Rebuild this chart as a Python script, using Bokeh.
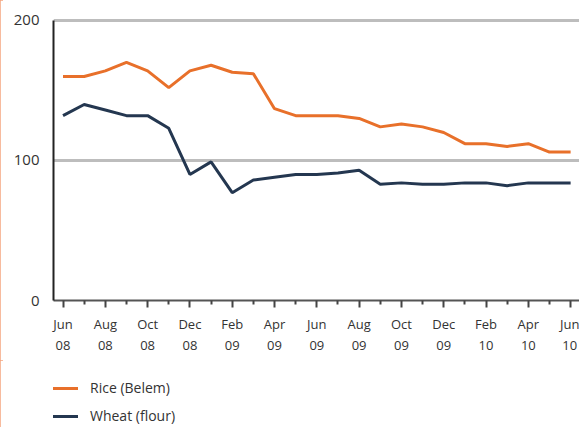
from bokeh.plotting import figure
from bokeh.layouts import column
from bokeh.models import FixedTicker, Legend, LegendItem
from bokeh.embed import file_html
from bokeh.resources import INLINE

months = ["Jun\n08", "Jul\n08", "Aug\n08", "Sep\n08", "Oct\n08", "Nov\n08", "Dec\n08",
          "Jan\n09", "Feb\n09", "Mar\n09", "Apr\n09", "May\n09", "Jun\n09", "Jul\n09",
          "Aug\n09", "Sep\n09", "Oct\n09", "Nov\n09", "Dec\n09", "Jan\n10", "Feb\n10",
          "Mar\n10", "Apr\n10", "May\n10", "Jun\n10"]
rice = [160, 160, 164, 170, 164, 152, 164, 168, 163, 162, 137, 132, 132, 132,
        130, 124, 126, 124, 120, 112, 112, 110, 112, 106, 106]
wheat = [132, 140, 136, 132, 132, 123, 90, 99, 77, 86, 88, 90, 90, 91,
         93, 83, 84, 83, 83, 84, 84, 82, 84, 84, 84]
series_names = ["Rice (Belem)", "Wheat (flour)"]
series_colors = ["#E8702A", "#243750"]
y_ticks = [0, 100, 200]

x = list(range(len(months)))
FONT = "Open Sans"
BORDER = {"box-shadow": "inset 3px 0 0 #F4A57E"}

p = figure(width=579, height=360, output_backend="svg", toolbar_location=None,
           x_range=(-0.45, 24.42), y_range=(0, 202.1),
           min_border_left=53, min_border_right=0, min_border_top=17, min_border_bottom=60)
p.outline_line_color = None
p.background_fill_color = "white"
p.border_fill_color = "white"
p.styles = BORDER

p.line(x, rice, line_color=series_colors[0], line_width=3)
p.line(x, wheat, line_color=series_colors[1], line_width=3)

# grid
p.xgrid.visible = False
p.ygrid.ticker = FixedTicker(ticks=y_ticks)
p.ygrid.grid_line_color = "#BDBDBD"
p.ygrid.grid_line_width = 3
p.ygrid.level = "underlay"

# y axis
p.yaxis.ticker = FixedTicker(ticks=y_ticks)
p.yaxis.bounds = (0, 200)
p.yaxis.axis_line_color = "#222222"
p.yaxis.axis_line_width = 2
p.yaxis.major_tick_line_color = None
p.yaxis.minor_tick_line_color = None
p.yaxis.major_label_text_font = FONT
p.yaxis.major_label_text_font_size = "15px"
p.yaxis.major_label_text_color = "#333333"
p.yaxis.major_label_standoff = 8

# x axis
major = x[::2]
minor = x[1::2]
p.xaxis.ticker = FixedTicker(ticks=major, minor_ticks=minor)
p.xaxis.major_label_overrides = {i: months[i] for i in major}
p.xaxis.axis_line_color = "#555555"
p.xaxis.axis_line_width = 2
p.xaxis.major_tick_line_color = "#444444"
p.xaxis.major_tick_line_width = 2
p.xaxis.major_tick_out = 7
p.xaxis.major_tick_in = 0
p.xaxis.minor_tick_line_color = "#444444"
p.xaxis.minor_tick_line_width = 2
p.xaxis.minor_tick_out = 4
p.xaxis.minor_tick_in = 0
p.xaxis.major_label_text_font = FONT
p.xaxis.major_label_text_font_size = "13px"
p.xaxis.major_label_text_color = "#333333"
p.xaxis.major_label_standoff = 7

# legend strip below the chart
q = figure(width=579, height=67, output_backend="svg", toolbar_location=None,
           x_range=(0, 1), y_range=(0, 1),
           min_border_left=0, min_border_right=0, min_border_top=0, min_border_bottom=0)
q.axis.visible = False
q.grid.visible = False
q.outline_line_color = None
q.styles = BORDER
nan = float("nan")
items = []
for name, col in zip(series_names, series_colors):
    r = q.line([nan], [nan], line_color=col, line_width=3)
    items.append(LegendItem(label=name, renderers=[r]))
legend = Legend(items=items, location=(-5, 2),
                orientation="vertical", border_line_color=None,
                background_fill_alpha=0, label_text_font=FONT,
                label_text_font_size="14px", label_text_color="#333333",
                glyph_width=30, glyph_height=16, label_height=16,
                spacing=9, margin=0, padding=0, label_standoff=12)
q.add_layout(legend, "center")

layout = column(p, q, spacing=0)
open("out.html", "w").write(file_html(layout, INLINE))
